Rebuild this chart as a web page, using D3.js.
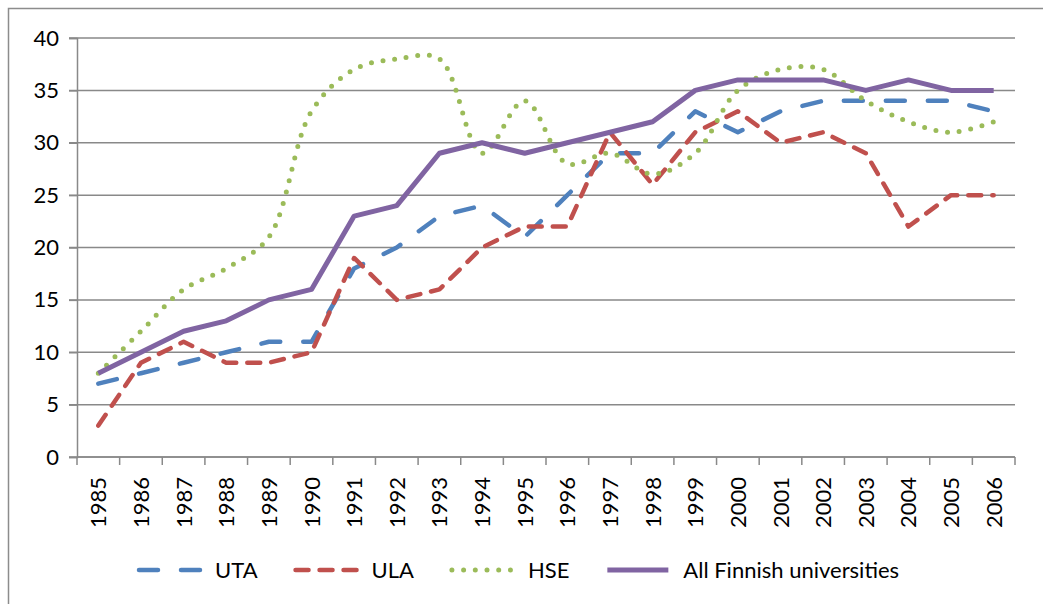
<!DOCTYPE html>
<html>
<head>
<meta charset="utf-8">
<script src="https://cdn.jsdelivr.net/npm/d3@7"></script>
<style>
  body { margin: 0; background: #fff; }
  svg { display: block; font-family: Lato, "Liberation Sans", sans-serif; }
</style>
</head>
<body>
<div id="chart"></div>
<script>
// data
var years = ["1985","1986","1987","1988","1989","1990","1991","1992","1993","1994","1995",
             "1996","1997","1998","1999","2000","2001","2002","2003","2004","2005","2006"];
var uta = [7, 8, 9, 10, 11, 11, 18, 20, 23, 24, 21, 25, 29, 29, 33, 31, 33, 34, 34, 34, 34, 33];
var ula = [3, 9, 11, 9, 9, 10, 19, 15, 16, 20, 22, 22, 31, 26, 31, 33, 30, 31, 29, 22, 25, 25];
var hse = [8, 12, 16, 18, 21, 33, 37, 38, 38, 29, 34, 28, 29, 27, 29, 35, 37, 37, 34, 32, 31, 32];
var allFin = [8, 10, 12, 13, 15, 16, 23, 24, 29, 30, 29, 30, 31, 32, 35, 36, 36, 36, 35, 36, 35, 35];
var yTicks = [0, 5, 10, 15, 20, 25, 30, 35, 40];

var series = [
  { name: "UTA", values: uta, color: "#4F81BD", dash: "19,23", width: 4.5, smooth: false },
  { name: "ULA", values: ula, color: "#C0504D", dash: "13,11", width: 4.5, smooth: false },
  { name: "HSE", values: hse, color: "#9BBB59", dash: "0,11.7", width: 5, smooth: true },
  { name: "All Finnish universities", values: allFin, color: "#8064A2", dash: null, width: 5, smooth: false }
];

var width = 1043, height = 604;
var plotLeft = 77, plotRight = 1015, plotTop = 38, plotBottom = 457;

var svg = d3.select("#chart").append("svg")
    .attr("width", width)
    .attr("height", height);

// chart frame
svg.append("rect")
    .attr("x", 8.5).attr("y", 8.5)
    .attr("width", width + 20).attr("height", height + 20)
    .attr("fill", "none")
    .attr("stroke", "#8c8c8c")
    .attr("stroke-width", 1.5);

var x = d3.scaleBand().domain(years).range([plotLeft, plotRight]);
var y = d3.scaleLinear().domain([0, 40]).range([plotBottom, plotTop]);

// gridlines
svg.append("g")
    .selectAll("line")
    .data(yTicks)
    .enter().append("line")
    .attr("x1", plotLeft - 8).attr("x2", plotRight)
    .attr("y1", function (d) { return y(d); })
    .attr("y2", function (d) { return y(d); })
    .attr("stroke", "#898989")
    .attr("stroke-width", 1.5);

// y axis
var yAxis = svg.append("g")
    .attr("transform", "translate(" + plotLeft + ",0)")
    .call(d3.axisLeft(y).tickValues(yTicks).tickSize(8).tickPadding(10));
yAxis.select(".domain").attr("stroke", "#898989").attr("stroke-width", 1.5);
yAxis.selectAll(".tick line").attr("stroke", "#898989").attr("stroke-width", 1.5);
yAxis.selectAll("text")
    .attr("font-size", 22)
    .attr("font-family", "Lato, 'Liberation Sans', sans-serif")
    .attr("fill", "#000");

// x axis: ticks at category boundaries
var lastEdge = x(years[years.length - 1]) + x.bandwidth();
var xg = svg.append("g");
xg.append("line")
    .attr("x1", plotLeft).attr("x2", plotRight)
    .attr("y1", plotBottom).attr("y2", plotBottom)
    .attr("stroke", "#898989").attr("stroke-width", 1.5);
xg.selectAll(".xtick")
    .data(years.concat(["end"]))
    .enter().append("line")
    .attr("class", "xtick")
    .attr("x1", function (d, i) { return i < years.length ? x(d) : lastEdge; })
    .attr("x2", function (d, i) { return i < years.length ? x(d) : lastEdge; })
    .attr("y1", plotBottom).attr("y2", plotBottom + 8)
    .attr("stroke", "#898989").attr("stroke-width", 1.5);
xg.selectAll(".xlabel")
    .data(years)
    .enter().append("text")
    .attr("class", "xlabel")
    .attr("transform", function (d) {
        return "translate(" + (x(d) + x.bandwidth() / 2 + 8) + "," + (plotBottom + 20) + ") rotate(-90)";
    })
    .attr("text-anchor", "end")
    .attr("font-size", 22)
    .text(function (d) { return d; });

// lines
var plot = svg.append("g");
series.forEach(function (s) {
    var line = d3.line()
        .x(function (d, i) { return x(years[i]) + x.bandwidth() / 2; })
        .y(function (d) { return y(d); })
        .curve(s.smooth ? d3.curveCatmullRom.alpha(0.5) : d3.curveLinear);
    plot.append("path")
        .datum(s.values)
        .attr("d", line)
        .attr("fill", "none")
        .attr("stroke", s.color)
        .attr("stroke-width", s.width)
        .attr("stroke-linecap", s.dash ? "round" : "butt")
        .attr("stroke-linejoin", "round")
        .attr("stroke-dasharray", s.dash);
});

// legend
var legendY = 570;
var lx = 137;
series.forEach(function (s) {
    var g = svg.append("g");
    g.append("line")
        .attr("x1", lx + 2).attr("x2", lx + 63)
        .attr("y1", legendY).attr("y2", legendY)
        .attr("stroke", s.color)
        .attr("stroke-width", s.width)
        .attr("stroke-linecap", s.dash ? "round" : "butt")
        .attr("stroke-dasharray", s.dash);
    var t = g.append("text")
        .attr("x", lx + 78)
        .attr("y", legendY)
        .attr("dy", "0.36em")
        .attr("font-size", 22)
        .text(s.name);
    lx = lx + 78 + t.node().getComputedTextLength() + 36;
});
</script>
</body>
</html>
